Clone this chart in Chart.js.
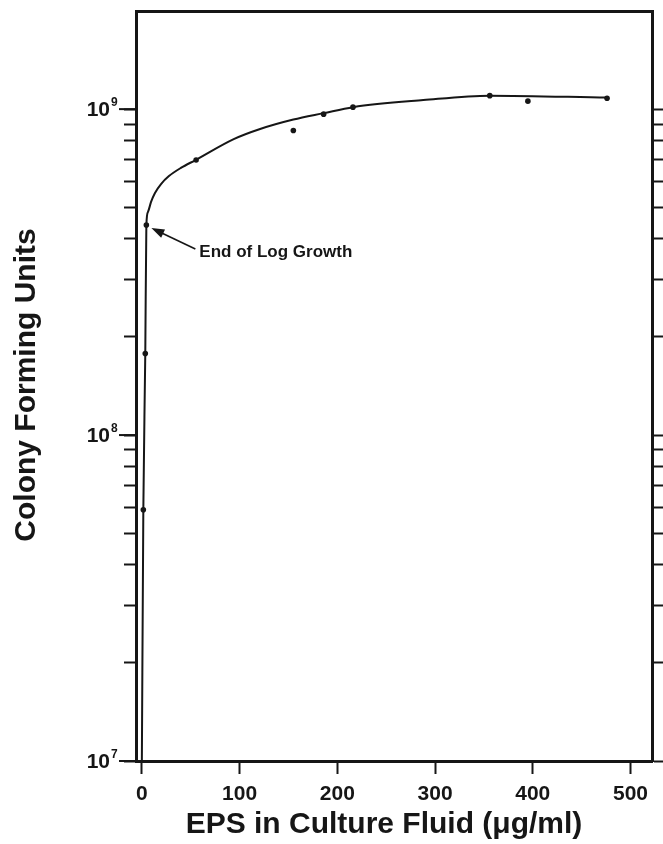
<!DOCTYPE html>
<html>
<head>
<meta charset="utf-8">
<script src="https://cdn.jsdelivr.net/npm/chart.js@4.4.1/dist/chart.umd.min.js"></script>
<style>
  body { margin: 0; background: #fff; }
  canvas { display: block; }
</style>
</head>
<body>
<canvas id="cfuChart" width="663" height="844"></canvas>
<script>
// measured points (EPS ug/ml vs colony forming units)
const epsValues = [1.5, 3.5, 4.6, 55.5, 155, 186, 216, 356, 395, 476];
const cfuValues = [5.9e7, 1.78e8, 4.41e8, 6.98e8, 8.6e8, 9.65e8, 1.014e9, 1.1e9, 1.058e9, 1.08e9];

// hand drawn fit curve
const curveEps = [0, 1.5, 3.5, 4.6, 6.3, 9.4, 13.4, 19.6, 27.7, 39.9, 55, 94, 121, 155, 186, 216, 288, 356, 476];
const curveCfu = [1e7, 5.9e7, 1.78e8, 4.41e8, 4.84e8, 5.19e8, 5.53e8, 5.89e8, 6.23e8, 6.6e8, 6.98e8, 8.09e8, 8.69e8, 9.29e8, 9.72e8, 1.014e9, 1.066e9, 1.1e9, 1.085e9];

const xTickValues = [0, 100, 200, 300, 400, 500];
const yDecades = [1e7, 1e8];
const yMantissas = [1, 2, 3, 4, 5, 6, 7, 8, 9];
const yMajorTicks = [1e7, 1e8, 1e9];
const yExponents = ["7", "8", "9"];

const annotationText = "End of Log Growth";
const annotationPoint = { x: 4.6, y: 4.41e8 };
const xTitle = "EPS in Culture Fluid (\u03bcg/ml)";
const yTitle = "Colony Forming Units";

const ink = "#161616";
const fontFamily = "'Liberation Sans', Arial, sans-serif";

const yTickValues = [];
yDecades.forEach(d => yMantissas.forEach(m => yTickValues.push(d * m)));
yTickValues.push(1e9);

function toPoints(xs, ys) {
  return xs.map((x, i) => ({ x: x, y: ys[i] }));
}

function setTicks(values) {
  return function (scale) {
    scale.ticks = values.map(v => ({ value: v }));
  };
}

const textPlugin = {
  id: "textPlugin",
  afterDraw(chart) {
    const ctx = chart.ctx;
    const xs = chart.scales.x;
    const ys = chart.scales.y;
    const area = chart.chartArea;
    ctx.save();
    ctx.fillStyle = ink;
    ctx.strokeStyle = ink;

    // y labels 10^n with longer major ticks
    yMajorTicks.forEach((v, i) => {
      const py = ys.getPixelForValue(v);
      ctx.font = "bold 21px " + fontFamily;
      ctx.textAlign = "right";
      ctx.textBaseline = "middle";
      ctx.fillText("10", area.left - 26, py + 1);
      ctx.font = "bold 12px " + fontFamily;
      ctx.textAlign = "left";
      ctx.fillText(yExponents[i], area.left - 25, py - 6);
      ctx.lineWidth = 2;
      ctx.beginPath();
      ctx.moveTo(area.left - 17, py);
      ctx.lineTo(area.left, py);
      ctx.stroke();
    });

    // axis titles
    ctx.font = "bold 30px " + fontFamily;
    ctx.textAlign = "center";
    ctx.textBaseline = "middle";
    ctx.fillText(xTitle, 384, 825);
    ctx.save();
    ctx.translate(27, 385);
    ctx.rotate(-Math.PI / 2);
    ctx.fillText(yTitle, 0, 0);
    ctx.restore();

    // annotation arrow
    const ax = xs.getPixelForValue(annotationPoint.x);
    const ay = ys.getPixelForValue(annotationPoint.y);
    const tipX = ax + 5, tipY = ay + 3;
    const tailX = ax + 49, tailY = ay + 24;
    const ang = Math.atan2(tipY - tailY, tipX - tailX);
    ctx.lineWidth = 1.6;
    ctx.beginPath();
    ctx.moveTo(tailX, tailY);
    ctx.lineTo(tipX + Math.cos(ang) * -8, tipY + Math.sin(ang) * -8);
    ctx.stroke();
    ctx.beginPath();
    ctx.moveTo(tipX, tipY);
    ctx.lineTo(tipX - 13 * Math.cos(ang) + 4.5 * Math.sin(ang), tipY - 13 * Math.sin(ang) - 4.5 * Math.cos(ang));
    ctx.lineTo(tipX - 13 * Math.cos(ang) - 4.5 * Math.sin(ang), tipY - 13 * Math.sin(ang) + 4.5 * Math.cos(ang));
    ctx.closePath();
    ctx.fill();
    ctx.font = "bold 17px " + fontFamily;
    ctx.textAlign = "left";
    ctx.textBaseline = "middle";
    ctx.fillText(annotationText, ax + 53, ay + 27);

    ctx.restore();
  }
};

const ctx = document.getElementById("cfuChart").getContext("2d");
new Chart(ctx, {
  type: "scatter",
  data: {
    datasets: [
      {
        label: "fit",
        data: toPoints(curveEps, curveCfu),
        showLine: true,
        borderColor: ink,
        borderWidth: 2,
        pointRadius: 0,
        cubicInterpolationMode: "monotone",
        order: 2,
      },
      {
        label: "CFU",
        data: toPoints(epsValues, cfuValues),
        backgroundColor: ink,
        borderWidth: 0,
        pointRadius: 2.8,
        order: 1,
      },
    ],
  },
  options: {
    responsive: false,
    animation: false,
    layout: { padding: 0 },
    plugins: {
      legend: { display: false },
      tooltip: { enabled: false },
    },
    scales: {
      x: {
        type: "linear",
        position: "bottom",
        min: -6,
        max: 522,
        afterBuildTicks: setTicks(xTickValues),
        afterFit: function (scale) { scale.height = 83; },
        border: { display: true, width: 3, color: ink },
        grid: { drawOnChartArea: false, tickLength: 13, tickWidth: 2, tickColor: ink },
        ticks: {
          color: ink,
          padding: 8,
          maxRotation: 0,
          font: { family: fontFamily, size: 21, weight: "bold" },
        },
      },
      x2: {
        type: "linear",
        position: "top",
        min: -6,
        max: 522,
        afterFit: function (scale) { scale.height = 11; },
        border: { display: true, width: 3, color: ink },
        grid: { display: false },
        ticks: { display: false },
      },
      y: {
        type: "logarithmic",
        position: "left",
        min: 1e7,
        max: 2e9,
        afterBuildTicks: setTicks(yTickValues),
        afterFit: function (scale) { scale.width = 136; },
        border: { display: true, width: 3, color: ink },
        grid: { drawOnChartArea: false, tickLength: 12, tickWidth: 2, tickColor: ink },
        ticks: { callback: function () { return ""; } },
      },
      y2: {
        type: "logarithmic",
        position: "right",
        min: 1e7,
        max: 2e9,
        afterBuildTicks: setTicks(yTickValues),
        afterFit: function (scale) { scale.width = 11; },
        border: { display: true, width: 3, color: ink },
        grid: { drawOnChartArea: false, tickLength: 12, tickWidth: 2, tickColor: ink },
        ticks: { callback: function () { return ""; } },
      },
    },
  },
  plugins: [textPlugin],
});
</script>
</body>
</html>
